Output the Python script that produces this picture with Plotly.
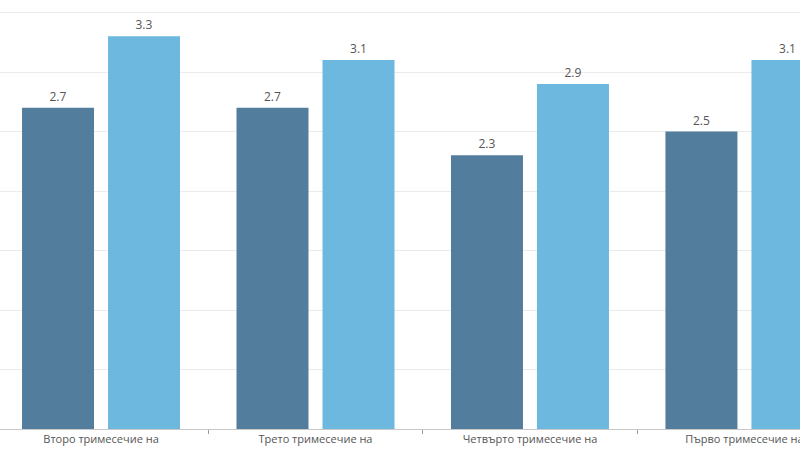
import plotly.graph_objects as go

categories = ["Второ тримесечие на<br>2022", "Трето тримесечие на<br>2022",
              "Четвърто тримесечие на<br>2022", "Първо тримесечие на<br>2023"]
series_a = [2.7, 2.7, 2.3, 2.5]
series_b = [3.3, 3.1, 2.9, 3.1]

dark = "#537d9c"
light = "#6db8de"

fig = go.Figure()
for vals, col in [(series_a, dark), (series_b, light)]:
    fig.add_trace(go.Bar(
        x=categories, y=vals, marker_color=col, marker_line_width=0,
        text=[f"{v:.1f}" for v in vals], textposition="outside",
        textfont=dict(size=12, color="#555555"), cliponaxis=False,
        showlegend=False,
    ))

fig.update_layout(
    width=800, height=450,
    margin=dict(l=0, r=0, t=0, b=21),
    plot_bgcolor="white", paper_bgcolor="white",
    barmode="group", bargap=0.198, bargroupgap=0.163,
    font=dict(family="Open Sans", color="#555555"),
    uniformtext=dict(mode=None),
)
fig.update_xaxes(
    range=[-0.471, 3.259], tickson="boundaries", ticks="outside", ticklen=4,
    tickcolor="#999999", showline=True, linecolor="#c8c8c8", linewidth=1,
    tickfont=dict(size=11, color="#555555"), automargin=False,
)
fig.update_yaxes(
    range=[0, 3.605], dtick=0.5, showgrid=True, gridcolor="#ebebeb",
    showticklabels=False, zeroline=False, automargin=False,
)

fig.write_html("out.html")
